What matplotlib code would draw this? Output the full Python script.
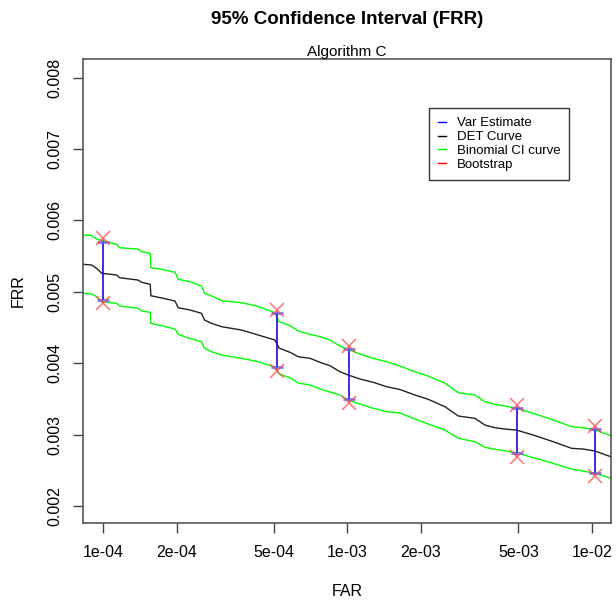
import matplotlib
matplotlib.use("Agg")
import matplotlib.pyplot as plt
from matplotlib.lines import Line2D

plt.rcParams["font.family"] = ["Liberation Sans", "DejaVu Sans"]

# DET curve and binomial CI curves
far = [8.31e-5, 8.99e-5, 9.42e-5, 9.88e-5, 1.138e-4, 1.17e-4, 1.39e-4, 1.44e-4,
       1.56e-4, 1.57e-4, 1.74e-4, 1.97e-4, 2.03e-4, 2.27e-4, 2.53e-4, 2.60e-4,
       2.78e-4, 3.06e-4, 3.69e-4, 4.32e-4, 5.05e-4, 5.25e-4, 5.82e-4, 6.29e-4,
       7.03e-4, 7.72e-4, 8.48e-4, 9.32e-4, 1.008e-3, 1.125e-3, 1.275e-3, 1.447e-3,
       1.639e-3, 1.888e-3, 2.141e-3, 2.505e-3, 2.84e-3, 3.323e-3, 3.651e-3, 4.011e-3,
       4.408e-3, 4.921e-3, 5.753e-3, 6.946e-3, 8.26e-3, 9.213e-3, 1.029e-2, 1.196e-2]
det_frr = [0.005386, 0.005376, 0.005330, 0.005260, 0.005236, 0.005198, 0.005166, 0.005134,
           0.005106, 0.004946, 0.004914, 0.004872, 0.004778, 0.004746, 0.004699, 0.004606,
           0.004559, 0.004512, 0.004465, 0.004395, 0.004325, 0.004213, 0.004153, 0.004091,
           0.004069, 0.004013, 0.003965, 0.003881, 0.003835, 0.003779, 0.003733, 0.003671,
           0.003632, 0.003555, 0.003495, 0.003391, 0.003261, 0.003228, 0.003134, 0.003097,
           0.003078, 0.003064, 0.002994, 0.002901, 0.002808, 0.002798, 0.002770, 0.002690]
ci_upper = [0.005796, 0.005789, 0.005740, 0.005719, 0.005666, 0.005618, 0.005600, 0.005562,
            0.005540, 0.005338, 0.005316, 0.005274, 0.005176, 0.005142, 0.005082, 0.004980,
            0.004942, 0.004876, 0.004848, 0.004795, 0.004708, 0.004582, 0.004526, 0.004451,
            0.004405, 0.004372, 0.004325, 0.004241, 0.004192, 0.004129, 0.004069, 0.004021,
            0.003961, 0.003881, 0.003821, 0.003719, 0.003587, 0.003555, 0.003461, 0.003424,
            0.003401, 0.003368, 0.003298, 0.003205, 0.003111, 0.003097, 0.003064, 0.002987]
ci_lower = [0.004980, 0.004970, 0.004932, 0.004862, 0.004840, 0.004802, 0.004769, 0.004732,
            0.004713, 0.004559, 0.004526, 0.004479, 0.004405, 0.004346, 0.004302, 0.004209,
            0.004161, 0.004115, 0.004069, 0.004021, 0.003947, 0.003849, 0.003797, 0.003723,
            0.003695, 0.003639, 0.003597, 0.003555, 0.003485, 0.003429, 0.003368, 0.003321,
            0.003303, 0.003219, 0.003149, 0.003064, 0.002948, 0.002901, 0.002822, 0.002794,
            0.002774, 0.002746, 0.002676, 0.002598, 0.002518, 0.002490, 0.002458, 0.002388]

# interval estimates at selected operating points
bar_far = [1.0e-4, 5.13e-4, 1.01e-3, 4.95e-3, 1.03e-2]
var_upper = [0.005702, 0.004699, 0.004196, 0.003368, 0.003074]
var_lower = [0.004886, 0.003943, 0.003494, 0.002738, 0.002466]
boot_upper = [0.005750, 0.004746, 0.004241, 0.003415, 0.003121]
boot_lower = [0.004840, 0.003891, 0.003447, 0.002690, 0.002420]

x_ticks = [1e-4, 2e-4, 5e-4, 1e-3, 2e-3, 5e-3, 1e-2]
x_labels = ["1e-04", "2e-04", "5e-04", "1e-03", "2e-03", "5e-03", "1e-02"]
y_ticks = [0.002, 0.003, 0.004, 0.005, 0.006, 0.007, 0.008]
y_labels = ["0.002", "0.003", "0.004", "0.005", "0.006", "0.007", "0.008"]

fig = plt.figure(figsize=(6.16, 6.02), dpi=100)
ax = fig.add_axes([0.1347, 0.1312, 0.8571, 0.7703])

ax.plot(far, ci_upper, color="#00ff00", lw=1)
ax.plot(far, ci_lower, color="#00ff00", lw=1)
ax.plot(far, det_frr, color="#222222", lw=1)

ax.vlines(bar_far, boot_lower, boot_upper, colors="red", lw=1.4, alpha=0.45)
ax.vlines(bar_far, var_lower, var_upper, colors="blue", lw=1.4, alpha=0.7)
ax.plot(bar_far, var_upper, ls="none", marker="_", ms=9, mew=2, color="#5a5aff", alpha=0.8)
ax.plot(bar_far, var_lower, ls="none", marker="_", ms=9, mew=2, color="#5a5aff", alpha=0.8)
ax.plot(bar_far, boot_upper, ls="none", marker="x", ms=10, mew=1.1, color="#ff5050", alpha=0.8)
ax.plot(bar_far, boot_lower, ls="none", marker="x", ms=10, mew=1.1, color="#ff5050", alpha=0.8)

ax.set_xscale("log")
ax.set_xlim(8.28e-5, 1.196e-2)
ax.set_ylim(0.001762, 0.008258)
ax.set_xticks(x_ticks)
ax.set_xticklabels(x_labels)
ax.minorticks_off()
ax.set_yticks(y_ticks)
ax.set_yticklabels(y_labels, rotation=90, va="center")
ax.tick_params(axis="both", direction="out", length=7, width=1, colors="#444444",
               labelcolor="black", labelsize=11.5)
ax.tick_params(axis="x", pad=9)
ax.tick_params(axis="y", pad=8)
for sp in ax.spines.values():
    sp.set_color("#555555")
    sp.set_linewidth(1.2)

handles = [Line2D([], [], color="blue", lw=1),
           Line2D([], [], color="black", lw=1),
           Line2D([], [], color="#00ff00", lw=1),
           Line2D([], [], color="red", lw=1)]
leg = ax.legend(handles, ["Var Estimate", "DET Curve", "Binomial CI curve", "Bootstrap"],
                loc="upper left", bbox_to_anchor=(0.655, 0.895), borderaxespad=0,
                fontsize=9.5, handlelength=0.6, handletextpad=0.8, labelspacing=0.12,
                fancybox=False, framealpha=1, borderpad=0.7)
leg.get_frame().set_edgecolor("#333333")
leg.get_frame().set_linewidth(1)

cx = 0.1347 + 0.8571 / 2
fig.text(cx, 1 - 20 / 602, "95% Confidence Interval (FRR)", ha="center", va="center",
         fontsize=13.5, fontweight="bold")
fig.text(cx, 1 - 52 / 602, "Algorithm C", ha="center", va="center", fontsize=11)
fig.text(cx, 1 - 591 / 602, "FAR", ha="center", va="center", fontsize=11.5)
fig.text(18 / 616, 1 - 291 / 602, "FRR", ha="center", va="center", rotation=90, fontsize=11.5)

fig.savefig("out.png", dpi=100)
